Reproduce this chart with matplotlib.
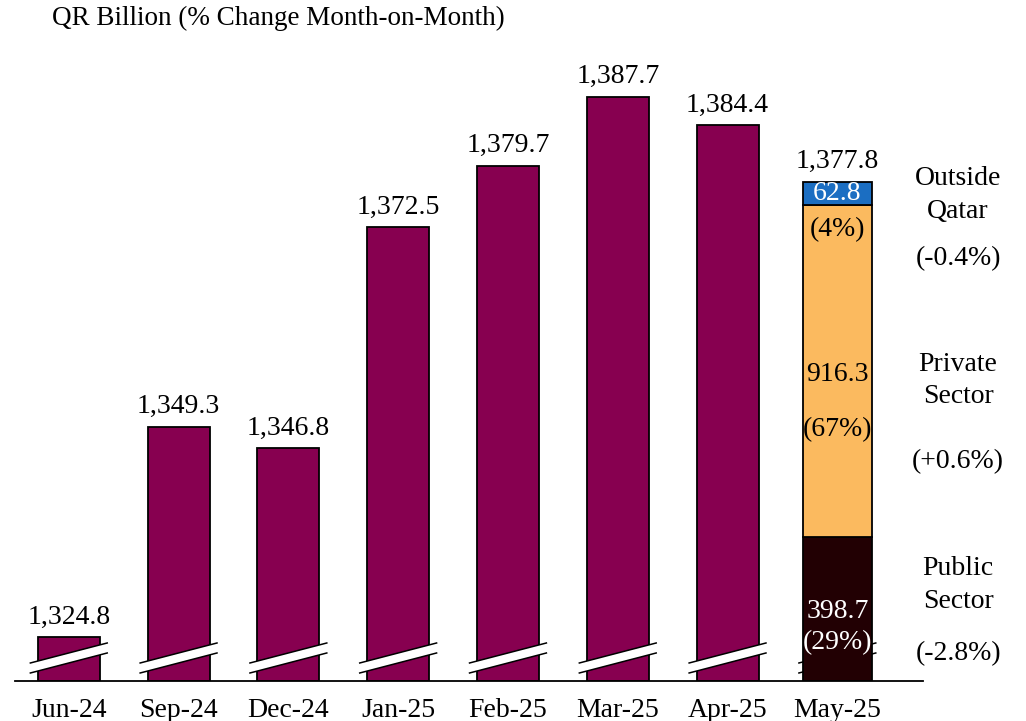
import numpy as np
import matplotlib.pyplot as plt
from matplotlib.patches import Polygon

months = ['Jun-24', 'Sep-24', 'Dec-24', 'Jan-25', 'Feb-25', 'Mar-25', 'Apr-25', 'May-25']
totals = [1324.8, 1349.3, 1346.8, 1372.5, 1379.7, 1387.7, 1384.4, 1377.8]

seg_names = ['Public\nSector', 'Private\nSector', 'Outside\nQatar']
seg_values = [398.7, 916.3, 62.8]
seg_shares = ['(29%)', '(67%)', '(4%)']
seg_changes = ['(-2.8%)', '(+0.6%)', '(-0.4%)']

y_floor = 1319.7
y_top = 1395.5

bar_color = '#870050'
seg_colors = ['#220003', '#FBBA5F', '#1B6EC2']

plt.rcParams['font.family'] = ['Liberation Serif', 'DejaVu Serif']

fig = plt.figure(figsize=(10.26, 7.21), dpi=100)
ax = fig.add_axes([0.0146, 0.0555, 0.885, 0.903])
ax.set_xlim(-0.49, 7.78)
ax.set_ylim(y_floor, y_top)

x = np.arange(len(months))
fs = 20

# plain bars
for i in range(len(months) - 1):
    ax.bar(x[i], totals[i] - y_floor, bottom=y_floor, width=0.565,
           color=bar_color, edgecolor='black', linewidth=1.3, zorder=2)
    ax.text(x[i], totals[i] + 0.9, f'{totals[i]:,.1f}', ha='center', va='bottom',
            fontsize=fs, zorder=5)

# stacked last bar, segments drawn in proportion to visible height
last = len(months) - 1
visible = totals[last] - y_floor
total_seg = sum(seg_values)
bottom = y_floor
seg_bounds = []
for v, c in zip(seg_values, seg_colors):
    h = visible * v / total_seg
    ax.bar(x[last], h, bottom=bottom, width=0.63, color=c,
           edgecolor='black', linewidth=1.3, zorder=3)
    seg_bounds.append((bottom, bottom + h))
    bottom += h
ax.text(x[last], totals[last] + 0.9, f'{totals[last]:,.1f}', ha='center', va='bottom',
        fontsize=fs, zorder=5)

# labels inside segments
b0, t0 = seg_bounds[0]
ax.text(x[last], b0 + 8.05, f'{seg_values[0]:.1f}', color='white', ha='center', va='center', fontsize=fs, zorder=6)
ax.text(x[last], b0 + 4.45, seg_shares[0], color='white', ha='center', va='center', fontsize=fs, zorder=6)
b1, t1 = seg_bounds[1]
ax.text(x[last], b1 + 18.83, f'{seg_values[1]:.1f}', color='black', ha='center', va='center', fontsize=fs, zorder=6)
ax.text(x[last], b1 + 12.43, seg_shares[1], color='black', ha='center', va='center', fontsize=fs, zorder=6)
b2, t2 = seg_bounds[2]
ax.text(x[last], (b2 + t2) / 2, f'{seg_values[2]:.1f}', color='white', ha='center', va='center', fontsize=fs, zorder=6)
ax.text(x[last], b2 - 2.85, seg_shares[2], color='black', ha='center', va='center', fontsize=fs, zorder=6)

# segment names and changes on the right
name_y = [1330.9, 1354.7, 1376.3]
chg_y = [1322.9, 1345.2, 1368.9]
for n, ny, c, cy in zip(seg_names, name_y, seg_changes, chg_y):
    ax.text(8.1, ny, n, ha='center', va='center', fontsize=fs, linespacing=1.4, clip_on=False)
    ax.text(8.1, cy, c, ha='center', va='center', fontsize=fs, clip_on=False)

# axis break marks
px = (y_top - y_floor) / 651.0
for i in range(len(months)):
    xl, xr = x[i] - 0.35, x[i] + 0.35
    yl, yr = y_floor + 18 * px, y_floor + 38 * px
    gap = 10 * px
    z = 4 if i < last else 1
    poly = Polygon([[xl, yl - gap], [xr, yr - gap], [xr, yr], [xl, yl]],
                   closed=True, facecolor='white', edgecolor='none', zorder=z)
    ax.add_patch(poly)
    ax.plot([xl, xr], [yl, yr], color='black', linewidth=1.1, zorder=z)
    ax.plot([xl, xr], [yl - gap, yr - gap], color='black', linewidth=1.1, zorder=z)

ax.set_xticks(x)
ax.set_xticklabels(months, fontsize=fs)
ax.set_yticks([])
ax.tick_params(axis='x', length=0, pad=12)
for s in ['left', 'right', 'top']:
    ax.spines[s].set_visible(False)
ax.spines['bottom'].set_linewidth(1.3)
ax.spines['bottom'].set_zorder(7)

fig.text(0.051, 0.975, 'QR Billion (% Change Month-on-Month)', ha='left', va='center', fontsize=19.5)

fig.savefig('out.png', dpi=100)
